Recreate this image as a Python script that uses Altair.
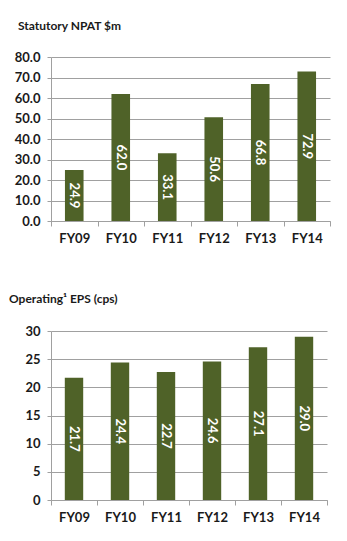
import altair as alt
import pandas as pd

years = ["FY09", "FY10", "FY11", "FY12", "FY13", "FY14"]
npat = [24.9, 62.0, 33.1, 50.6, 66.8, 72.9]
eps = [21.7, 24.4, 22.7, 24.6, 27.1, 29.0]

BAR = "#4f6228"
GRID = "#a0a0a0"
TXT = "#1a1a1a"
FONT = "Lato"


def panel(values, title, ymax, ystep, yfmt, w, h, dx, toff):
    df = pd.DataFrame({"year": years, "v": values})
    base = alt.Chart(df).transform_calculate(mid="datum.v / 2")
    xaxis = alt.Axis(
        labelAngle=0, tickBand="extent", tickSize=5, labelPadding=6,
        labelFontSize=13, labelFont=FONT, labelFontWeight="bold",
        labelColor=TXT, domainColor=GRID, tickColor=GRID, grid=False,
    )
    xscale = alt.Scale(paddingInner=0, paddingOuter=0)
    ticks = list(range(0, int(ymax) + 1, ystep))
    yaxis = alt.Axis(
        values=ticks, format=yfmt, tickSize=4, labelPadding=7,
        labelOverlap=False, labelFontSize=13, labelFont=FONT,
        labelFontWeight="bold", labelColor=TXT, domainColor=GRID,
        tickColor=GRID, gridColor=GRID, gridWidth=1, tickCount=len(ticks),
    )
    yscale = alt.Scale(domain=[0, ymax], nice=False)
    bars = base.mark_bar(color=BAR, width=alt.RelativeBandSize(0.4)).encode(
        x=alt.X("year:N", sort=years, title=None, scale=xscale, axis=xaxis),
        y=alt.Y("v:Q", title=None, scale=yscale, axis=yaxis),
    )
    labels = base.mark_text(
        angle=90, color="white", font=FONT, fontWeight="bold", fontSize=13,
        align="center", baseline="middle",
    ).encode(
        x=alt.X("year:N", sort=years, title=None, scale=xscale, axis=xaxis),
        y=alt.Y("mid:Q", title=None, scale=yscale, axis=yaxis),
        text=alt.Text("v:Q", format=".1f"),
    )
    return alt.layer(bars, labels).properties(
        width=w, height=h,
        title=alt.TitleParams(
            title, anchor="start", frame="group", fontSize=12, font=FONT,
            fontWeight="bold", color=TXT, offset=toff, dx=dx,
        ),
    )


top = panel(npat, "Statutory NPAT $m", 80, 10, ".1f", 279, 164, -33, 18)
bottom = panel(eps, "Operating\u00b9 EPS (cps)", 30, 5, "d", 276, 169, -42, 19)

chart = alt.vconcat(top, bottom, spacing=48).properties(
    padding={"left": 9, "top": 20, "right": 5, "bottom": 5},
    background="white",
).configure_view(stroke=None)

chart.save("out.html", embed_options={"renderer": "svg", "actions": False})
